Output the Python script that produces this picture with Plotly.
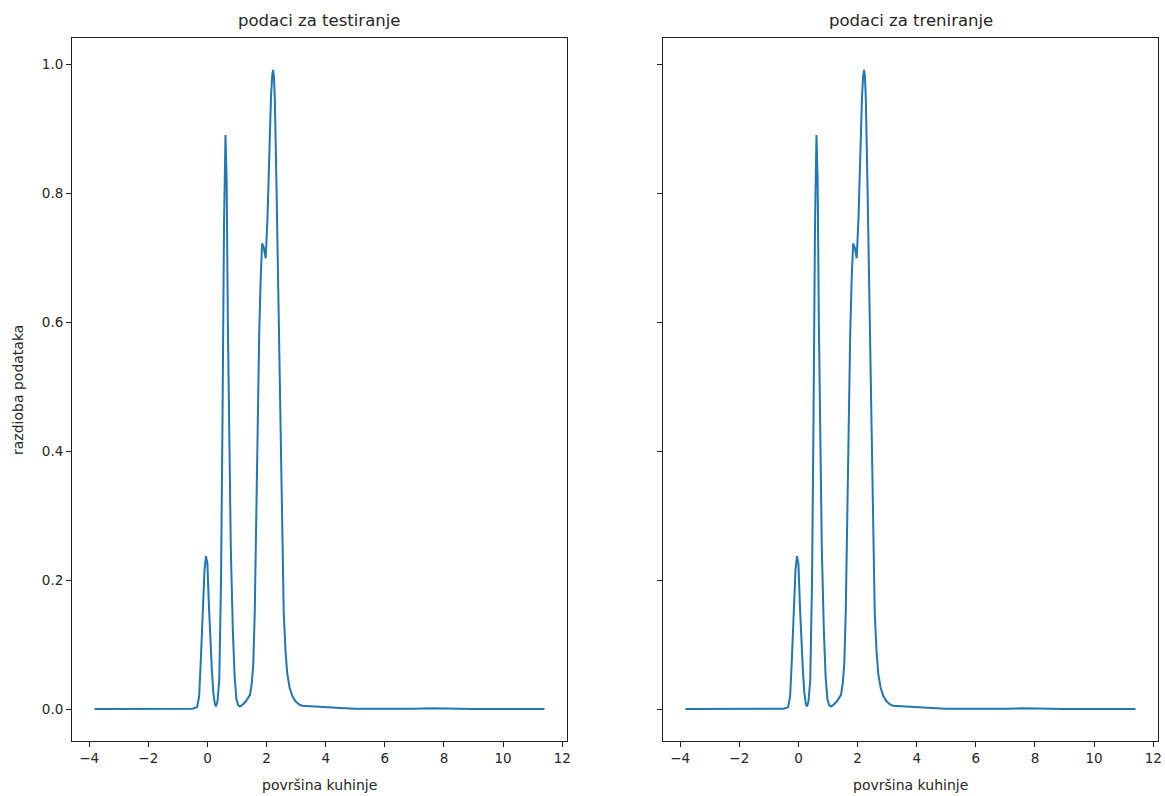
import plotly.graph_objects as go

# KDE curve (same for both panels)
x_vals = [-3.82, -3.0, -2.0, -1.0, -0.5, -0.35, -0.28, -0.22, -0.15, -0.1, -0.05, 0.0, 0.05, 0.1,
          0.15, 0.2, 0.25, 0.29, 0.34, 0.40, 0.46, 0.51, 0.56, 0.61, 0.65, 0.69, 0.74, 0.79, 0.86,
          0.92, 0.98, 1.04, 1.1, 1.2, 1.3, 1.38, 1.44, 1.5, 1.55, 1.6, 1.65, 1.7, 1.75, 1.8, 1.85,
          1.91, 1.97, 2.03, 2.09, 2.15, 2.19, 2.22, 2.25, 2.28, 2.34, 2.4, 2.46, 2.52, 2.58, 2.64,
          2.7, 2.78, 2.87, 2.98, 3.1, 3.2, 3.5, 4.0, 4.5, 5.0, 6.0, 7.0, 7.6, 8.2, 9.0, 10.0, 11.4]
y_vals = [0.0, 0.0, 0.0, 0.0, 0.0005, 0.003, 0.02, 0.08, 0.16, 0.215, 0.237, 0.225, 0.16, 0.105,
          0.06, 0.025, 0.008, 0.004, 0.012, 0.045, 0.2, 0.45, 0.75, 0.89, 0.82, 0.6, 0.4, 0.25, 0.12,
          0.05, 0.015, 0.006, 0.004, 0.007, 0.012, 0.017, 0.022, 0.04, 0.07, 0.15, 0.3, 0.45, 0.58,
          0.666, 0.722, 0.715, 0.699, 0.76, 0.86, 0.95, 0.982, 0.991, 0.98, 0.945, 0.8, 0.63, 0.45,
          0.28, 0.15, 0.09, 0.055, 0.033, 0.02, 0.012, 0.007, 0.005, 0.004, 0.003, 0.0015, 0.0005,
          0.0003, 0.0004, 0.0012, 0.0003, 0.0002, 0.0001, 0.0001]

titles = ["podaci za testiranje", "podaci za treniranje"]
x_label = "površina kuhinje"
y_label = "razdioba podataka"
x_ticks = [-4, -2, 0, 2, 4, 6, 8, 10, 12]
y_ticks = [0.0, 0.2, 0.4, 0.6, 0.8, 1.0]

W, H = 1165, 796
FONT = "DejaVu Sans"
BLUE = "#1f77b4"


def px(x):
    return x / W


def py(y):
    return 1 - y / H


left_dom = [px(72), px(567)]
right_dom = [px(663), px(1158)]
y_dom = [py(741), py(38)]

fig = go.Figure()
fig.add_trace(go.Scatter(x=x_vals, y=y_vals, mode="lines", line=dict(color=BLUE, width=2),
                         xaxis="x", yaxis="y", showlegend=False, hoverinfo="skip"))
fig.add_trace(go.Scatter(x=x_vals, y=y_vals, mode="lines", line=dict(color=BLUE, width=2),
                         xaxis="x2", yaxis="y2", showlegend=False, hoverinfo="skip"))

xr = [-4.581, 12.161]
yr = [-0.0496, 1.0406]
common = dict(showline=True, mirror=True, linecolor="#222222", linewidth=1, ticks="outside",
              ticklen=5, tickwidth=1, tickcolor="#222222", showgrid=False, zeroline=False,
              automargin=False, tickfont=dict(family=FONT, size=13.5, color="#262626"))
xtext = [("−" + str(abs(t))) if t < 0 else str(t) for t in x_ticks]

fig.update_layout(
    width=W, height=H, template="none",
    paper_bgcolor="white", plot_bgcolor="white",
    margin=dict(l=0, r=0, t=0, b=0),
    xaxis=dict(domain=left_dom, range=xr, tickvals=x_ticks, ticktext=xtext, anchor="y", **common),
    yaxis=dict(domain=y_dom, range=yr, tickvals=y_ticks, ticktext=[f"{t:.1f}" for t in y_ticks],
               anchor="x", **common),
    xaxis2=dict(domain=right_dom, range=xr, tickvals=x_ticks, ticktext=xtext, anchor="y2", **common),
    yaxis2=dict(domain=y_dom, range=yr, tickvals=y_ticks, showticklabels=False,
                anchor="x2", **common),
)

ann = []
for dom, t in zip([left_dom, right_dom], titles):
    cx = (dom[0] + dom[1]) / 2
    ann.append(dict(text=t, x=cx, y=py(20), xref="paper", yref="paper", showarrow=False,
                    xanchor="center", yanchor="middle",
                    font=dict(family=FONT, size=16.5, color="#262626")))
    ann.append(dict(text=x_label, x=cx, y=py(785), xref="paper", yref="paper", showarrow=False,
                    xanchor="center", yanchor="middle",
                    font=dict(family=FONT, size=14, color="#262626")))
ann.append(dict(text=y_label, x=px(18), y=py(390), xref="paper", yref="paper", showarrow=False,
                xanchor="center", yanchor="middle", textangle=-90,
                font=dict(family=FONT, size=14, color="#262626")))
fig.update_layout(annotations=ann)

fig.write_html("out.html", config={"displayModeBar": False, "staticPlot": True},
               post_script="document.body.style.margin='0';document.body.style.overflow='hidden';")
